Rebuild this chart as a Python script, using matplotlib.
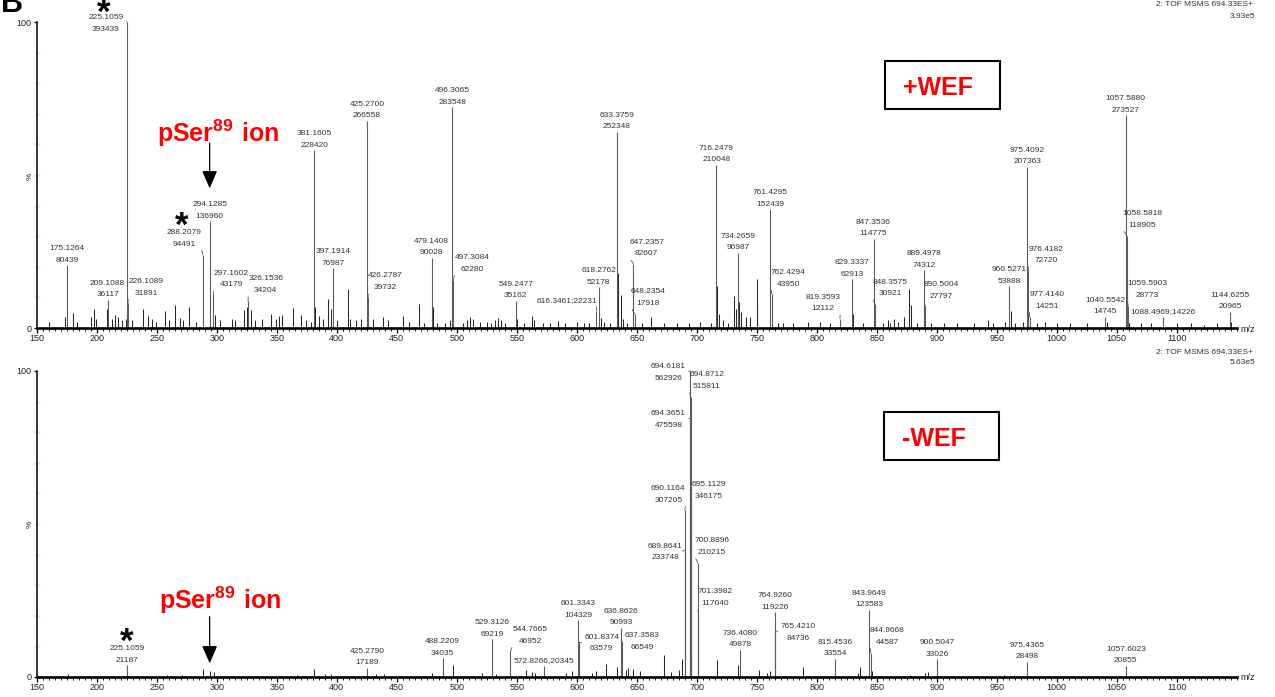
import matplotlib
matplotlib.use("Agg")
import matplotlib.pyplot as plt
from matplotlib import transforms
from matplotlib.patches import Rectangle
from matplotlib.ticker import FixedLocator, MultipleLocator

plt.rcParams['font.family'] = ['Liberation Sans', 'DejaVu Sans']
plt.rcParams['mathtext.fontset'] = 'custom'
plt.rcParams['mathtext.rm'] = 'Liberation Sans'
plt.rcParams['mathtext.bf'] = 'Liberation Sans:bold'

# ---------------------------------------------------------------- data
# +WEF spectrum: labelled peaks (m/z, counts)
plus_mz = [175.1264, 209.1088, 225.1059, 226.1089, 288.2079, 294.1285, 297.1602,
           326.1536, 381.1605, 397.1914, 425.2700, 426.2787, 479.1408, 496.3065,
           497.3084, 549.2477, 616.3461, 618.2762, 633.3759, 647.2357, 648.2354,
           716.2479, 734.2659, 761.4295, 762.4294, 819.3593, 829.3337, 847.3536,
           848.3575, 889.4978, 890.5004, 960.5271, 975.4092, 976.4182, 977.4140,
           1040.5542, 1057.5880, 1058.5818, 1059.5903, 1088.4969, 1144.6255]
plus_int = [80439, 36117, 393439, 31891, 94491, 136960, 43179,
            34204, 228420, 76987, 266558, 39732, 90028, 283548,
            62280, 35162, 22231, 52178, 252348, 82607, 17918,
            210048, 96987, 152439, 43950, 12112, 62913, 114775,
            30921, 74312, 27797, 53888, 207363, 72720, 14251,
            14745, 273527, 118905, 28773, 14226, 20965]

# +WEF spectrum: unlabelled peaks (m/z, % of base peak)
plus_minor = [
    (160.0, 2.0), (173.8, 3.6), (180.0, 5.0), (184.0, 2.0), (195.0, 3.6), (198.0, 6.3),
    (199.6, 3.0), (208.3, 6.3), (212.7, 3.0), (215.5, 4.4), (217.4, 3.6), (221.0, 2.5),
    (224.3, 3.0), (229.0, 2.5), (238.9, 6.3), (242.5, 4.0), (246.0, 3.0), (249.5, 2.0),
    (257.2, 5.4), (260.5, 2.5), (265.0, 7.6), (269.0, 3.3), (272.0, 2.5), (277.0, 6.9),
    (282.4, 2.0), (298.2, 4.4), (302.6, 2.5), (312.9, 2.8), (315.0, 2.5), (323.0, 5.8),
    (325.3, 6.9), (328.6, 5.8), (332.0, 2.5), (337.5, 3.0), (345.5, 4.7), (349.4, 3.0),
    (352.2, 4.0), (354.4, 4.4), (363.3, 6.5), (370.3, 4.4), (374.0, 2.5), (378.6, 2.0),
    (382.2, 6.9), (385.5, 4.0), (389.0, 3.0), (392.5, 9.6), (395.3, 6.3), (400.6, 2.5),
    (409.2, 12.9), (411.4, 3.0), (416.0, 2.5), (420.2, 3.0), (430.2, 3.0), (438.5, 3.6),
    (442.7, 2.5), (455.0, 4.0), (460.6, 2.0), (468.3, 8.0), (473.0, 1.5), (480.2, 6.9),
    (483.3, 1.5), (490.0, 1.5), (494.3, 2.5), (504.9, 1.5), (509.0, 2.5), (511.0, 3.6),
    (513.3, 3.0), (519.4, 2.0), (525.6, 2.0), (529.0, 1.5), (531.8, 2.7), (534.7, 3.3),
    (536.6, 2.5), (540.0, 1.5), (550.4, 3.0), (556.2, 1.5), (562.5, 3.8), (564.5, 2.5),
    (572.0, 1.5), (577.6, 1.5), (584.6, 2.2), (590.0, 1.5), (600.0, 2.0), (605.7, 1.5),
    (610.6, 1.5), (620.5, 3.3), (622.5, 2.0), (628.0, 1.5), (634.4, 18.0), (636.9, 10.8),
    (638.7, 3.0), (642.0, 1.5), (654.3, 1.5), (661.7, 3.6), (672.5, 1.5), (683.6, 1.5),
    (693.3, 1.5), (703.0, 2.0), (711.5, 1.5), (717.3, 13.7), (718.7, 4.7), (722.0, 2.5),
    (726.0, 1.5), (731.4, 10.5), (732.8, 6.3), (735.3, 8.5), (736.7, 5.2), (740.8, 3.6),
    (744.2, 3.6), (750.0, 16.0), (750.5, 8.0), (768.0, 1.5), (772.0, 1.5), (780.5, 1.5),
    (793.0, 2.0), (802.6, 2.0), (811.0, 1.5), (830.3, 4.7), (838.9, 1.5), (855.0, 1.5),
    (859.7, 2.5), (861.0, 1.5), (864.4, 3.0), (868.0, 2.0), (872.7, 3.6), (877.2, 12.9),
    (878.2, 7.4), (883.7, 1.5), (895.0, 1.5), (906.0, 1.5), (917.0, 1.5), (931.0, 1.5),
    (943.0, 2.5), (947.0, 1.5), (956.9, 2.0), (961.7, 5.4), (965.0, 1.5), (971.5, 2.0),
    (983.6, 1.5), (990.3, 2.0), (1000.0, 1.5), (1011.0, 1.5), (1025.0, 1.5), (1042.0, 2.0),
    (1060.6, 1.5), (1070.0, 1.5), (1078.6, 1.5), (1100.5, 1.5), (1111.6, 1.5), (1122.6, 1.0),
    (1133.8, 1.5), (1145.6, 2.0),
]

# -WEF spectrum: labelled peaks (m/z, counts)
minus_mz = [225.1059, 425.2790, 488.2209, 529.3126, 544.7665, 572.8266, 601.3343,
            601.8374, 636.8626, 637.3583, 689.8641, 690.1164, 694.3651, 694.6181,
            694.8712, 695.1129, 700.8896, 701.3982, 736.4080, 764.9260, 765.4210,
            815.4536, 843.9649, 844.9668, 900.5047, 975.4365, 1057.6023]
minus_int = [21187, 17189, 34035, 69219, 46952, 20345, 104329,
             63579, 90993, 66549, 233748, 307205, 475598, 562926,
             515811, 346175, 210215, 117040, 49878, 119226, 84736,
             33554, 123583, 44587, 33026, 28498, 20855]

# -WEF spectrum: unlabelled peaks (m/z, % of base peak)
minus_minor = [
    (175.8, 1.1), (258.5, 0.8), (271.0, 0.8), (288.2, 2.5), (294.1, 2.0), (297.5, 1.5),
    (367.0, 0.8), (381.2, 2.7), (390.0, 1.0), (395.0, 1.0), (432.8, 1.0), (439.4, 1.0),
    (479.2, 1.2), (497.2, 4.0), (520.8, 1.4), (533.0, 1.0), (557.9, 2.3), (562.7, 1.5),
    (565.0, 1.3), (591.0, 1.3), (595.8, 1.8), (612.8, 1.3), (615.7, 1.8), (624.0, 4.3),
    (633.5, 3.4), (641.4, 2.4), (642.8, 2.8), (647.2, 2.5), (652.8, 2.0), (672.9, 7.2),
    (678.6, 1.7), (685.5, 2.2), (687.5, 5.8), (695.6, 7.0), (716.9, 5.6), (734.6, 4.0),
    (751.8, 2.2), (758.2, 1.2), (761.0, 2.0), (788.6, 3.4), (834.0, 1.4), (836.1, 3.4),
    (846.0, 2.0), (878.0, 0.7), (890.3, 1.4), (892.6, 1.6), (956.0, 0.7), (964.0, 0.7),
]

# peaks whose label is written on one line, with the separator used
inline_labels = {"616.3461": ";", "1088.4969": ";", "572.8266": ","}

x_tick_values = list(range(150, 1101, 50))
panel_titles = ["+WEF", "-WEF"]
header_line = "2: TOF MSMS 694.33ES+"
ion_mz = 294.1285

# label placement: (dx px, dy px, leader anchor on text box)
plus_label_offsets = {
    "225.1059": (-21, -10.75, (1, 0.55)),
    "226.1089": (18, 6.5, (0, 0)),
    "288.2079": (-18.5, 7, (1, 0)),
    "297.1602": (17.7, 6.4, (0, 0)),
    "326.1536": (17.6, 7.4, (0, 0)),
    "426.2787": (17, 6.3, (0, 0)),
    "497.3084": (19, 6.8, (0, 0)),
    "616.3461": (-29.6, 6.7, (1, 0)),
    "647.2357": (13.2, 6.3, (0, 0)),
    "648.2354": (13.6, 7.3, (0, 0)),
    "762.4294": (16.7, 6.3, (0, 0)),
    "819.3593": (-17.2, 6.5, (1, 0)),
    "848.3575": (15.3, 6.5, (0, 0)),
    "890.5004": (15.7, 6.6, (0, 0)),
    "976.4182": (17.6, 7.3, (0, 0)),
    "977.4140": (17.1, 7.2, (0, 0)),
    "1058.5818": (14.9, 6.7, (0, 0)),
    "1059.5903": (18.7, 6.8, (0, 0)),
}
minus_label_offsets = {
    "544.7665": (20, 6.75, (0, 0)),
    "601.8374": (22.8, -10, (0, 0.55)),
    "637.3583": (20.3, -10, (0, 0.55)),
    "689.8641": (-19.4, -11.5, (1, 0.55)),
    "690.1164": (-16.5, 6.25, (1, 0)),
    "694.3651": (-21.5, -10.5, (1, 0.55)),
    "694.6181": (-21.8, -11, (1, 0.55)),
    "694.8712": (16.3, 6.85, (0, 0)),
    "695.1129": (17.6, -11, (0, 0.55)),
    "700.8896": (14.1, 7, (0, 0)),
    "701.3982": (16.8, 6.4, (0, 0)),
    "765.4210": (23.1, -10.6, (0, 0.55)),
    "844.9668": (16.8, 7, (0, 0)),
}

# ---------------------------------------------------------------- styling
W, H = 1275, 697
STICK_MAJOR = "#5c5c5c"
STICK_MINOR = "#262626"
LABEL = "#333333"
LEADER = "#555555"
RED = "#ff0000"


def fx(px):
    return px / W


def fy(py):
    return 1 - py / H


fig = plt.figure(figsize=(W / 100, H / 100), dpi=100)
fig.patch.set_facecolor("white")

# plot areas: m/z 150..1150 spans 1200 px, 0..100 % spans 306 px
ax_top = fig.add_axes([fx(36.7), fy(328), 1200 / W, 306 / H])
ax_bot = fig.add_axes([fx(36.7), fy(677), 1200 / W, 306 / H])


def style_axes(ax):
    ax.set_xlim(150, 1150)
    ax.set_ylim(0, 100)
    ax.set_facecolor("none")
    for s in ("top", "right"):
        ax.spines[s].set_visible(False)
    ax.spines["left"].set_linewidth(1.1)
    ax.spines["bottom"].set_linewidth(1.9)
    ax.xaxis.set_major_locator(FixedLocator(x_tick_values))
    ax.xaxis.set_minor_locator(MultipleLocator(5))
    ax.tick_params(axis="x", which="major", length=3.6, width=0.9, labelsize=6.5,
                   pad=0.8, labelcolor="#222222")
    ax.tick_params(axis="x", which="minor", length=2.0, width=0.7)
    ax.set_yticks([0, 100])
    ax.set_yticklabels(["0", "100"])
    ax.yaxis.set_minor_locator(MultipleLocator(10))
    ax.tick_params(axis="y", which="major", length=2.5, width=0.9, labelsize=6.5,
                   pad=1.2, labelcolor="#222222")
    ax.tick_params(axis="y", which="minor", length=5, width=2.0, color="#ececec",
                   direction="inout")


def draw_spectrum(ax, mz, inten, minor, offsets):
    base = max(inten)
    pct = [100.0 * v / base for v in inten]
    mm = [p[0] for p in minor]
    mp = [p[1] for p in minor]
    ax.vlines(mm, 0, mp, colors=STICK_MINOR, lw=0.75, zorder=2)
    ax.vlines(mz, 0, pct, colors=STICK_MAJOR, lw=0.8, zorder=2, clip_on=False)
    for m, v, p in zip(mz, inten, pct):
        key = f"{m:.4f}"
        sep = inline_labels.get(key)
        txt = f"{key}{sep}{v}" if sep else f"{key}\n{v}"
        dx, dy, rel = offsets.get(key, (0, 1.5, None))
        props = None
        if rel is not None:
            props = dict(arrowstyle="-", color=LEADER, lw=0.6,
                         shrinkA=0, shrinkB=0, relpos=rel)
        ax.annotate(txt, xy=(m, p), xytext=(dx, dy), textcoords="offset pixels",
                    ha="center", va="bottom", fontsize=6, color=LABEL,
                    linespacing=1.9, arrowprops=props, annotation_clip=False)


for ax in (ax_top, ax_bot):
    style_axes(ax)

draw_spectrum(ax_top, plus_mz, plus_int, plus_minor, plus_label_offsets)
draw_spectrum(ax_bot, minus_mz, minus_int, minus_minor, minus_label_offsets)

# percent marker, m/z unit and instrument headers
for y_mid, y_axis, y_head, scale in ((176, 330, 5, "3.93e5"), (524, 678, 352, "5.63e5")):
    fig.text(fx(30), fy(y_mid), "%", rotation=90, ha="center", va="center",
             fontsize=6, color="#222222")
    fig.text(fx(1240), fy(y_axis), "m/z", ha="left", va="center", fontsize=6.5,
             color="#222222")
    fig.text(fx(1253), fy(y_head), header_line, ha="right", va="center",
             fontsize=6, color=LABEL)
    fig.text(fx(1255), fy(y_head + 11), scale, ha="right", va="center",
             fontsize=6, color=LABEL)

# condition boxes
for title, (bx, by), tx, tb in ((panel_titles[0], (885, 60.7), 903, 95),
                                (panel_titles[1], (884, 411.7), 902, 445.7)):
    fig.add_artist(Rectangle((fx(bx), fy(by + 48)), 115 / W, 48 / H,
                             transform=fig.transFigure, fill=False,
                             lw=1.5, ec="black"))
    fig.text(fx(tx), fy(tb), title, ha="left", va="baseline", fontsize=18,
             weight="bold", color=RED)

# pSer89 ion call-outs
ion_label = r"$\mathbf{pSer^{89}\ ion}$"
for ax, tx, tb, tail, tip in ((ax_top, 218, 141.7, 0.6046, 0.4565),
                              (ax_bot, 220, 609.3, 0.197, 0.0448)):
    fig.text(fx(tx), fy(tb), ion_label, ha="center", va="baseline",
             fontsize=18, color=RED)
    blend = transforms.blended_transform_factory(ax.transData, ax.transAxes)
    ax.annotate("", xy=(ion_mz, tip), xytext=(ion_mz, tail), xycoords=blend,
                textcoords=blend, annotation_clip=False,
                arrowprops=dict(arrowstyle="-|>,head_length=1.08,head_width=0.47",
                                mutation_scale=10, color="black", lw=0.9,
                                shrinkA=0, shrinkB=0))

# asterisks marking the 225/288 fragments
for (sx, sb) in ((104, 22.5), (181.7, 236.2), (127, 651.5)):
    fig.text(fx(sx), fy(sb), "*", ha="center", va="baseline", fontsize=25,
             weight="bold", color="black")

# panel letter
fig.text(fx(1), fy(12), "B", ha="left", va="baseline", fontsize=22,
         weight="bold", color="black")

fig.savefig("out.png", dpi=100)
